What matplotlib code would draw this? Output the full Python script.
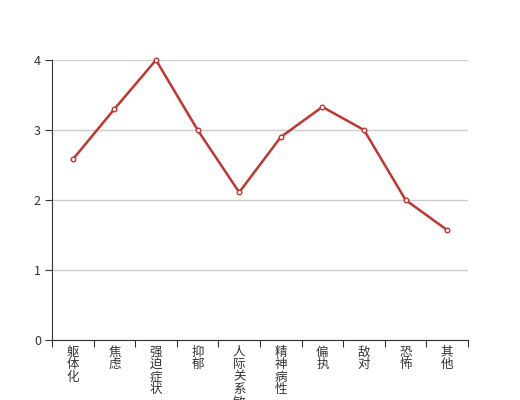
import matplotlib
matplotlib.use("Agg")
import matplotlib.pyplot as plt
import numpy as np

plt.rcParams['font.family'] = ['Noto Sans CJK SC', 'DejaVu Sans']

categories = ["躯体化", "焦虑", "强迫症状", "抑郁", "人际关系敏感",
              "精神病性", "偏执", "敌对", "恐怖", "其他"]
values = [2.58, 3.3, 4.0, 3.0, 2.11, 2.9, 3.33, 3.0, 2.0, 1.57]
y_ticks = [0, 1, 2, 3, 4]

fig = plt.figure(figsize=(5.2, 4), dpi=100)
ax = fig.add_axes([0.1, 0.15, 0.8, 0.70])

x = np.arange(len(categories))
ax.plot(x, values, color="#c23531", lw=1.8, marker="o", markersize=3.3,
        markerfacecolor="white", markeredgecolor="#c23531", markeredgewidth=1,
        zorder=3, clip_on=False)

ax.set_xlim(-0.5, len(categories) - 0.5)
ax.set_ylim(0, 4)
ax.set_yticks(y_ticks)
ax.set_yticklabels([str(v) for v in y_ticks])
ax.yaxis.grid(True, color="#cccccc", lw=1)
ax.set_axisbelow(True)

# boundary ticks between categories, labels at centers
ax.set_xticks(np.arange(-0.5, len(categories), 1.0))
ax.set_xticklabels([])
ax.set_xticks(x, minor=True)
ax.set_xticklabels(["\n".join(c) for c in categories], minor=True,
                   va="top", linespacing=0.95)
ax.tick_params(axis="x", which="major", length=5, color="#333333", direction="out")
ax.tick_params(axis="x", which="minor", length=0, pad=4, labelsize=9, labelcolor="#333333")
ax.tick_params(axis="y", length=5, color="#333333", labelsize=9, labelcolor="#333333", pad=3)

for s in ["top", "right"]:
    ax.spines[s].set_visible(False)
ax.spines["left"].set_color("#333333")
ax.spines["bottom"].set_color("#333333")

fig.savefig("out.png", dpi=100)
